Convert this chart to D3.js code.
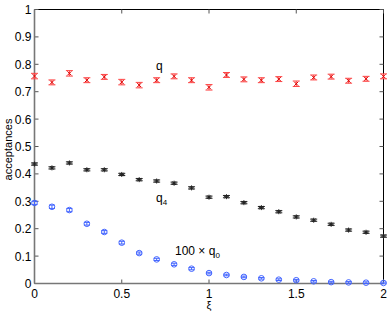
<!DOCTYPE html>
<html><head><meta charset="utf-8">
<script src="https://cdn.jsdelivr.net/npm/d3@7"></script>
<style>body{margin:0;background:#fff}svg{display:block}text{font-family:"Liberation Sans",Arial,sans-serif}</style>
</head><body>
<script>
const xi = [0,0.1,0.2,0.3,0.4,0.5,0.6,0.7,0.8,0.9,1.0,1.1,1.2,1.3,1.4,1.5,1.6,1.7,1.8,1.9,2.0];
const q  = [0.757,0.734,0.767,0.742,0.754,0.735,0.724,0.742,0.756,0.742,0.716,0.761,0.745,0.742,0.746,0.729,0.752,0.755,0.740,0.747,0.756];
const qErr = [0.010,0.009,0.010,0.009,0.009,0.010,0.010,0.009,0.009,0.009,0.010,0.009,0.009,0.009,0.009,0.010,0.009,0.009,0.009,0.009,0.009];
const q4 = [0.436,0.422,0.440,0.415,0.415,0.398,0.379,0.374,0.366,0.349,0.315,0.317,0.295,0.277,0.262,0.243,0.231,0.216,0.195,0.187,0.173];
const q4Err = [0.004,0.004,0.004,0.004,0.004,0.004,0.004,0.004,0.004,0.004,0.004,0.004,0.004,0.004,0.004,0.004,0.004,0.004,0.004,0.004,0.004];
const q0 = [0.294,0.280,0.268,0.218,0.188,0.149,0.111,0.088,0.070,0.054,0.038,0.031,0.024,0.019,0.014,0.012,0.008,0.005,0.004,0.003,0.002];
const q0Err = [0.006,0.006,0.006,0.005,0.005,0.005,0.004,0.004,0.004,0.004,0.003,0.003,0.003,0.003,0.003,0.003,0.003,0.003,0.003,0.003,0.003];
const xTicks = [0,0.5,1,1.5,2];
const xTickLabels = ["0","0.5","1","1.5","2"];
const yTicks = [0,0.1,0.2,0.3,0.4,0.5,0.6,0.7,0.8,0.9,1];
const yTickLabels = ["0","0.1","0.2","0.3","0.4","0.5","0.6","0.7","0.8","0.9","1"];

const W=391,H=314;
const svg=d3.select("body").append("svg").attr("width",W).attr("height",H);
const x=d3.scaleLinear().domain([0,2]).range([34.5,383.5]);
const y=d3.scaleLinear().domain([0,1]).range([283.5,9.5]);

// box
svg.append("line").attr("x1",x(0)).attr("x2",x(2)).attr("y1",y(1)).attr("y2",y(1)).attr("stroke","#000").attr("stroke-width",1);
svg.append("line").attr("x1",x(2)).attr("x2",x(2)).attr("y1",y(0)).attr("y2",y(1)).attr("stroke","#000").attr("stroke-width",1);

// ticks
const tl=4;
xTicks.forEach((t,i)=>{
  svg.append("line").attr("x1",x(t)).attr("x2",x(t)).attr("y1",y(0)).attr("y2",y(0)-tl).attr("stroke","#555");
  svg.append("line").attr("x1",x(t)).attr("x2",x(t)).attr("y1",y(1)).attr("y2",y(1)+tl).attr("stroke","#555");
  svg.append("text").attr("x",x(t)).attr("y",y(0)+14).attr("text-anchor","middle").attr("font-size",12).text(xTickLabels[i]);
});
yTicks.forEach((t,i)=>{
  svg.append("line").attr("x1",x(0)).attr("x2",x(0)+tl).attr("y1",y(t)).attr("y2",y(t)).attr("stroke","#555");
  svg.append("line").attr("x1",x(2)).attr("x2",x(2)-tl).attr("y1",y(t)).attr("y2",y(t)).attr("stroke","#555");
  svg.append("text").attr("x",x(0)-3).attr("y",y(t)+4.5).attr("text-anchor","end").attr("font-size",12).text(yTickLabels[i]);
});
// left & bottom axes (grayish thick as in reference)
svg.append("line").attr("x1",x(0)).attr("x2",x(0)).attr("y1",y(0)).attr("y2",y(1)).attr("stroke","#777").attr("stroke-width",1.6);
svg.append("line").attr("x1",x(0)).attr("x2",x(2)).attr("y1",y(0)).attr("y2",y(0)).attr("stroke","#777").attr("stroke-width",1.6);

function errbars(vals,errs,color,cap){
  const g=svg.append("g").attr("stroke",color).attr("stroke-width",1).attr("fill","none");
  xi.forEach((xv,i)=>{
    const cx=x(xv), lo=y(vals[i]-errs[i]), hi=y(vals[i]+errs[i]);
    g.append("line").attr("x1",cx).attr("x2",cx).attr("y1",lo).attr("y2",hi);
    g.append("line").attr("x1",cx-cap).attr("x2",cx+cap).attr("y1",lo).attr("y2",lo);
    g.append("line").attr("x1",cx-cap).attr("x2",cx+cap).attr("y1",hi).attr("y2",hi);
  });
  return g;
}
// q: red x
const gq=errbars(q,qErr,"#ff4444",3.5);
xi.forEach((xv,i)=>{const cx=x(xv),cy=y(q[i]),s=2;
  gq.append("path").attr("d",`M${cx-s},${cy-s}L${cx+s},${cy+s}M${cx-s},${cy+s}L${cx+s},${cy-s}`).attr("stroke","#dd0000");});
// q4: black *
const g4=errbars(q4,q4Err,"#222",3.5);
xi.forEach((xv,i)=>{const cx=x(xv),cy=y(q4[i]),s=2.5;
  g4.append("path").attr("d",`M${cx-s},${cy}L${cx+s},${cy}M${cx},${cy-s}L${cx},${cy+s}M${cx-s*0.7},${cy-s*0.7}L${cx+s*0.7},${cy+s*0.7}M${cx-s*0.7},${cy+s*0.7}L${cx+s*0.7},${cy-s*0.7}`).attr("stroke","#222");});
// q0: blue o
const g0=errbars(q0,q0Err,"#4466ff",3);
xi.forEach((xv,i)=>{g0.append("circle").attr("cx",x(xv)).attr("cy",y(q0[i])).attr("r",2.8).attr("stroke","#4466ff");});

// labels
svg.append("text").attr("x",156).attr("y",70).attr("font-size",12).text("q");
const t4=svg.append("text").attr("x",156).attr("y",202).attr("font-size",12);
t4.append("tspan").text("q");
t4.append("tspan").attr("dy",3).attr("font-size",8).text("4");
const t0=svg.append("text").attr("x",175).attr("y",255).attr("font-size",12);
t0.append("tspan").text("100 × q");
t0.append("tspan").attr("dy",3).attr("font-size",8).text("0");
svg.append("text").attr("transform",`translate(12,${y(0.5)+3}) rotate(-90)`).attr("text-anchor","middle").attr("font-size",11).text("acceptances");
svg.append("text").attr("x",x(1)).attr("y",309).attr("text-anchor","middle").attr("font-size",11).text("ξ");
</script>
</body></html>
